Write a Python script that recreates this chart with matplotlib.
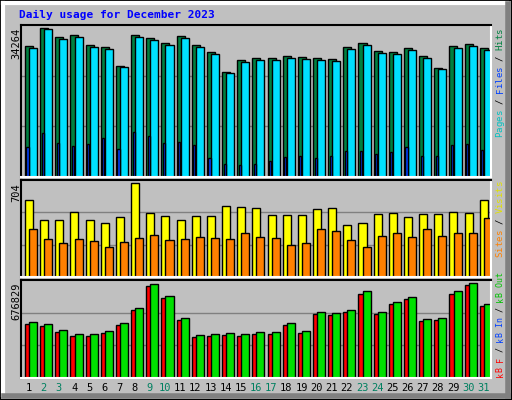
import numpy as np
import matplotlib.pyplot as plt
from matplotlib.patches import Rectangle

days = list(range(1, 32))
weekend = [2, 3, 9, 10, 16, 17, 23, 24, 30, 31]

hits = [30070, 34264, 32170, 32630, 30300, 29840, 25640, 32630, 31930, 30770, 32400,
        30300, 28670, 24240, 26810, 27270, 27270, 27740, 27510, 27270, 27040, 29840,
        30770, 28900, 28670, 29600, 27740, 25170, 30070, 30540, 29600]
files = [29750, 33950, 31850, 32300, 29980, 29520, 25320, 32300, 31600, 30450, 32080,
         29980, 28350, 23920, 26490, 26950, 26950, 27420, 27190, 26950, 26720, 29520,
         30450, 28580, 28350, 29280, 27420, 24850, 29750, 30220, 29280]
pages = [6990, 10020, 7930, 7230, 7690, 8860, 6530, 10260, 9320, 7930, 8160, 7460,
         4430, 3030, 2800, 3030, 3730, 4660, 4900, 4430, 4900, 6060, 6060, 5360, 5830,
         6990, 4900, 4900, 7460, 7690, 6290]
visits = [575, 424, 424, 484, 424, 401, 447, 704, 477, 454, 424, 454, 454, 530, 522,
          515, 462, 462, 462, 507, 515, 386, 401, 469, 477, 447, 469, 469, 484, 477, 575]
sites = [356, 288, 257, 288, 273, 227, 265, 295, 318, 280, 288, 303, 295, 288, 333,
         303, 295, 242, 257, 363, 341, 280, 227, 310, 333, 303, 356, 310, 326, 326, 439]
kb_out = [401650, 386780, 342150, 312400, 312400, 334710, 394210, 498350, 670000,
          587600, 431400, 304960, 312400, 319830, 312400, 327270, 327270, 394210,
          334710, 468590, 461160, 483470, 617350, 468590, 542970, 580160, 423970,
          431400, 617350, 676829, 528100]
kb_in = [386800, 371900, 327300, 297500, 297500, 319800, 379300, 483500, 655000,
         572700, 416500, 290100, 297500, 305000, 297500, 312400, 312400, 379300,
         319800, 453700, 446300, 468600, 602500, 453700, 528100, 565300, 409100,
         416500, 602500, 662000, 513200]
kb_f = [6000] * 31

BG = '#C0C0C0'
W, H = 512, 400
fig = plt.figure(figsize=(5.12, 4.0), dpi=100, facecolor=BG)
plt.rcParams['font.family'] = 'DejaVu Sans Mono'

# outer frame
fig.add_artist(Rectangle((0, 0), 1, 1, transform=fig.transFigure, fill=False, ec='black', lw=1.5))
fig.add_artist(plt.Line2D([3 / W, 3 / W], [5 / H, 1 - 3 / H], color='white', lw=3))
fig.add_artist(plt.Line2D([3 / W, 1 - 5 / W], [1 - 3 / H, 1 - 3 / H], color='white', lw=3))
fig.add_artist(plt.Line2D([1 - 4 / W, 1 - 4 / W], [4 / H, 1 - 4 / H], color='#808080', lw=4))
fig.add_artist(plt.Line2D([4 / W, 1 - 4 / W], [4 / H, 4 / H], color='#808080', lw=4))


def panel(top, bottom):
    ax = fig.add_axes([21 / W, 1 - bottom / H, 470 / W, (bottom - top) / H])
    ax.set_facecolor(BG)
    ax.set_xlim(0, 31)
    ax.set_xticks([])
    ax.set_yticks([])
    for s in ax.spines.values():
        s.set_linewidth(1.5)
    ax.spines['right'].set_color('white')
    ax.spines['bottom'].set_color('white')
    return ax


x = np.arange(31)
kw = dict(align='edge', edgecolor='black', linewidth=1)

ax1 = panel(25, 177)
ax1.set_ylim(0, 34264 * 150 / 147)
for f in (1 / 3, 2 / 3):
    ax1.axhline(34264 * 150 / 147 * f, color='#808080', lw=1, zorder=0)
ax1.bar(x + 0.26, hits, 0.53, color='#008040', **kw)
ax1.bar(x + 0.53, files, 0.53, color='#00E0FF', **kw)
ax1.bar(x + 0.36, pages, 0.14, color='#0040FF', **kw)

ax2 = panel(180, 277)
ax2.set_ylim(0, 704 * 96 / 93)
for f in (1 / 3, 2 / 3):
    ax2.axhline(704 * 96 / 93 * f, color='#808080', lw=1, zorder=0)
ax2.bar(x + 0.26, visits, 0.53, color='#FFFF00', **kw)
ax2.bar(x + 0.53, sites, 0.53, color='#FF8000', **kw)

ax3 = panel(280, 378)
ax3.set_ylim(0, 676829 * 94 / 91)
for f in (1 / 3, 2 / 3):
    ax3.axhline(676829 * 94 / 91 * f, color='#808080', lw=1, zorder=0)
ax3.bar(x + 0.26, kb_in, 0.53, color='#FF0000', **kw)
ax3.bar(x + 0.53, kb_out, 0.53, color='#00E000', **kw)
ax3.bar(x + 0.36, kb_f, 0.14, color='#0080FF', edgecolor='black', linewidth=0.5, align='edge')

# title
fig.text(19 / W, 1 - 15 / H, 'Daily usage for December 2023', color='#0000FF',
         fontsize=8, fontweight='bold', va='center')

# max labels
for ypix, lab in [(28, '34264'), (183, '704'), (283, '676829')]:
    fig.text(16 / W, 1 - ypix / H, lab, rotation=90, fontsize=7.5, ha='center', va='top')

# day labels
for d in days:
    fig.text((21 + (d - 0.5) * 470 / 31) / W, 1 - 388 / H, str(d), fontsize=7.5,
             ha='center', va='center', color='#008060' if d in weekend else 'black')


def vlegend(ybottom, parts, size):
    # monospace advance is about 0.602 em
    step = size * 100 / 72 * 0.602
    y = ybottom
    for txt, col in parts:
        for ch in txt:
            if ch != ' ':
                fig.text(500 / W, 1 - (y - step / 2) / H, ch, rotation=90, color=col,
                         fontsize=size, ha='center', va='center')
            y -= step


vlegend(137, [('Pages', '#00C0C0'), (' / ', 'black'), ('Files', '#0040FF'),
              (' / ', 'black'), ('Hits', '#008040')], 6.5)
vlegend(257, [('Sites', '#FF8000'), (' / ', 'black'), ('Visits', '#E0E000')], 6.5)
vlegend(377, [('kB F', '#FF0000'), (' / ', 'black'), ('kB In', '#0040FF'),
              (' / ', 'black'), ('kB Out', '#00C000')], 6.0)

fig.savefig('out.png', dpi=100, facecolor=BG)
